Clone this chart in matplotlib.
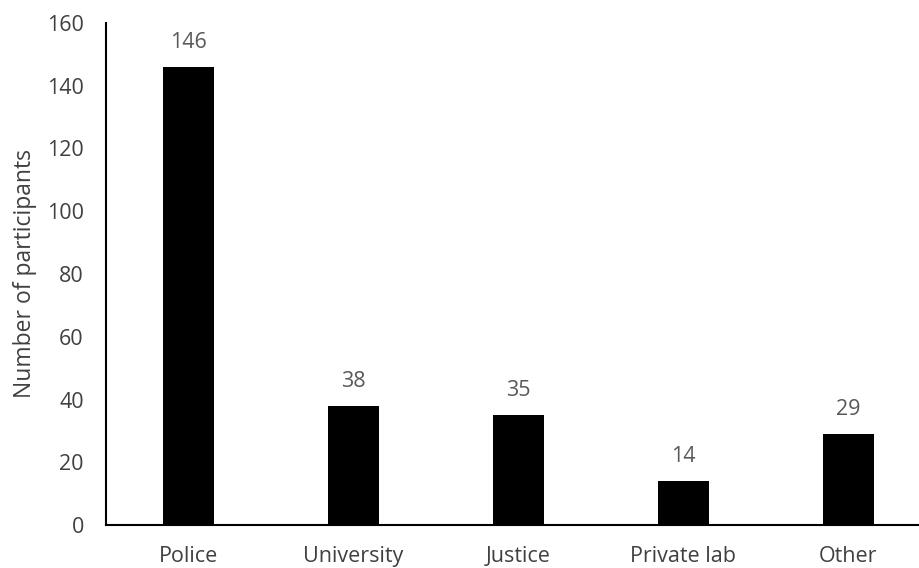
import matplotlib
matplotlib.use("Agg")
import matplotlib.pyplot as plt

categories = ["Police", "University", "Justice", "Private lab", "Other"]
participants = [146, 38, 35, 14, 29]
y_ticks = [0, 20, 40, 60, 80, 100, 120, 140, 160]

plt.rcParams['font.family'] = ['Open Sans', 'DejaVu Sans']

W, H = 919, 568
fig = plt.figure(figsize=(W / 100, H / 100), dpi=100)
ax = fig.add_axes([106 / W, 43 / H, (W - 106) / W, 502 / H])

x = range(len(categories))
bars = ax.bar(x, participants, width=0.315, color='black')
for xi, v in zip(x, participants):
    ax.annotate(str(v), (xi, v), xytext=(0, 10), textcoords='offset points',
                ha='center', va='bottom', fontsize=15.5, color='#595959')

ax.set_xlim(-0.5, -0.5 + (W - 106) / 165)
ax.set_ylim(0, 160)
ax.set_yticks(y_ticks)
ax.set_xticks(list(x))
ax.set_xticklabels(categories)
ax.tick_params(axis='both', length=0, labelsize=15.5, labelcolor='#404040')
ax.tick_params(axis='y', pad=16)
ax.tick_params(axis='x', pad=15)
ax.set_ylabel("Number of participants", fontsize=16.5, color='#404040', labelpad=7)

for s in ['top', 'right']:
    ax.spines[s].set_visible(False)
for s in ['left', 'bottom']:
    ax.spines[s].set_linewidth(1.5)
    ax.spines[s].set_color('black')

fig.savefig("out.png", dpi=100)
